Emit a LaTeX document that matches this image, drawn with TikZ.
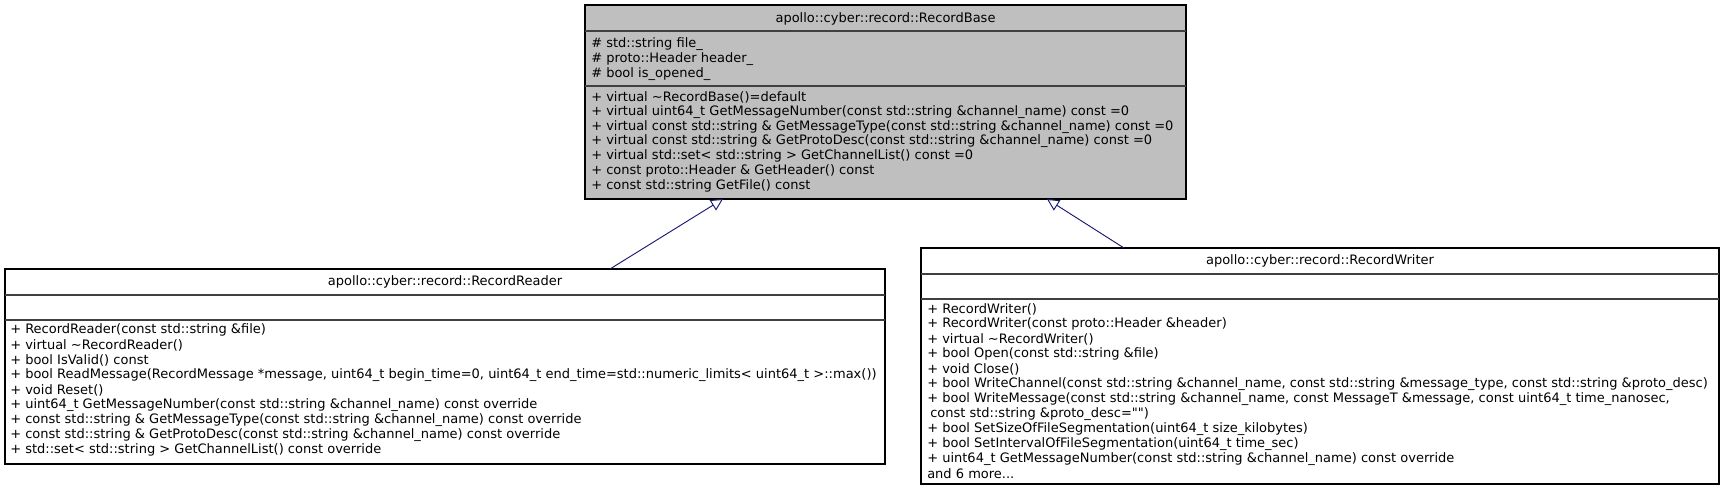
\documentclass[tikz,border=0pt]{standalone}
\usepackage{fontspec}
\setmainfont{DejaVu Sans}[Ligatures=TeXOff]
\usetikzlibrary{arrows.meta}
\definecolor{edgeblue}{HTML}{191970}
\definecolor{basefill}{HTML}{BFBFBF}
\tikzset{
  umlbox/.style={draw=black, line width=1pt, inner sep=0pt},
  sepline/.style={draw=black!75, line width=1pt},
  txt/.style={anchor=west, inner sep=0pt, font=\fontsize{9.75}{11}\selectfont},
  ttl/.style={anchor=center, inner sep=0pt, font=\fontsize{9.75}{11}\selectfont},
  inherit/.style={draw=edgeblue, line width=0.7pt, -{Triangle[open, length=9pt, width=9pt, fill=white]}},
}
\begin{document}
\begin{tikzpicture}[x=0.75pt,y=-0.75pt]
\useasboundingbox (0,0) rectangle (1725,492);

% ---------- RecordBase ----------
\path[umlbox, fill=basefill] (585,5) rectangle (1186,199);
\draw[sepline] (585,31) -- (1186,31);
\draw[sepline] (585,86) -- (1186,86);
\node[ttl] (bt) at (885.5,18.5) {apollo::cyber::record::RecordBase};
\node[txt] (ba1) at (591,44) {\# std::string file\_};
\node[txt] (ba2) at (591,59) {\# proto::Header header\_};
\node[txt] (ba3) at (591,74) {\# bool is\_opened\_};
\node[txt] (bm1) at (591,97) {+ virtual \textasciitilde RecordBase()=default};
\node[txt] (bm2) at (591,111.85) {+ virtual uint64\_t GetMessageNumber(const std::string \&channel\_name) const =0};
\node[txt] (bm3) at (591,126.7) {+ virtual const std::string \& GetMessageType(const std::string \&channel\_name) const =0};
\node[txt] (bm4) at (591,141.5) {+ virtual const std::string \& GetProtoDesc(const std::string \&channel\_name) const =0};
\node[txt] (bm5) at (591,156.4) {+ virtual std::set< std::string > GetChannelList() const =0};
\node[txt] (bm6) at (591,171.2) {+ const proto::Header \& GetHeader() const};
\node[txt] (bm7) at (591,186.1) {+ const std::string GetFile() const};
\coordinate (baseL) at (723,199);
\coordinate (baseR) at (1047,199);

% ---------- RecordReader ----------
\path[umlbox] (5,269) rectangle (885,464);
\draw[sepline] (5,295) -- (885,295);
\draw[sepline] (5,320) -- (885,320);
\node[ttl] (rt) at (445,282) {apollo::cyber::record::RecordReader};
\node[txt] (r1) at (10,330) {+ RecordReader(const std::string \&file)};
\node[txt] (r2) at (10,345) {+ virtual \textasciitilde RecordReader()};
\node[txt] (r3) at (10,360) {+ bool IsValid() const};
\node[txt] (r4) at (10,375) {+ bool ReadMessage(RecordMessage *message, uint64\_t begin\_time=0, uint64\_t end\_time=std::numeric\_limits< uint64\_t >::max())};
\node[txt] (r5) at (10,390) {+ void Reset()};
\node[txt] (r6) at (10,405) {+ uint64\_t GetMessageNumber(const std::string \&channel\_name) const override};
\node[txt] (r7) at (10,420) {+ const std::string \& GetMessageType(const std::string \&channel\_name) const override};
\node[txt] (r8) at (10,435) {+ const std::string \& GetProtoDesc(const std::string \&channel\_name) const override};
\node[txt] (r9) at (10,450) {+ std::set< std::string > GetChannelList() const override};
\coordinate (readerTop) at (610,269);

% ---------- RecordWriter ----------
\path[umlbox] (921,248) rectangle (1719,484);
\draw[sepline] (921,274) -- (1719,274);
\draw[sepline] (921,299) -- (1719,299);
\node[ttl] (wt) at (1320,261) {apollo::cyber::record::RecordWriter};
\node[txt] (w1) at (927,309) {+ RecordWriter()};
\node[txt] (w2) at (927,324) {+ RecordWriter(const proto::Header \&header)};
\node[txt] (w3) at (927,339) {+ virtual \textasciitilde RecordWriter()};
\node[txt] (w4) at (927,354) {+ bool Open(const std::string \&file)};
\node[txt] (w5) at (927,369) {+ void Close()};
\node[txt] (w6) at (927,384) {+ bool WriteChannel(const std::string \&channel\_name, const std::string \&message\_type, const std::string \&proto\_desc)};
\node[txt] (w7) at (927,399) {+ bool WriteMessage(const std::string \&channel\_name, const MessageT \&message, const uint64\_t time\_nanosec,};
\node[txt] (w8) at (930,414) {const std::string \&proto\_desc="")};
\node[txt] (w9) at (927,429) {+ bool SetSizeOfFileSegmentation(uint64\_t size\_kilobytes)};
\node[txt] (w10) at (927,444) {+ bool SetIntervalOfFileSegmentation(uint64\_t time\_sec)};
\node[txt] (w11) at (927,459) {+ uint64\_t GetMessageNumber(const std::string \&channel\_name) const override};
\node[txt] (w12) at (927,474) {and 6 more...};
\coordinate (writerTop) at (1124,248);

% ---------- inheritance ----------
\draw[inherit] (readerTop) -- (baseL);
\draw[inherit] (writerTop) -- (baseR);
\end{tikzpicture}
\end{document}
